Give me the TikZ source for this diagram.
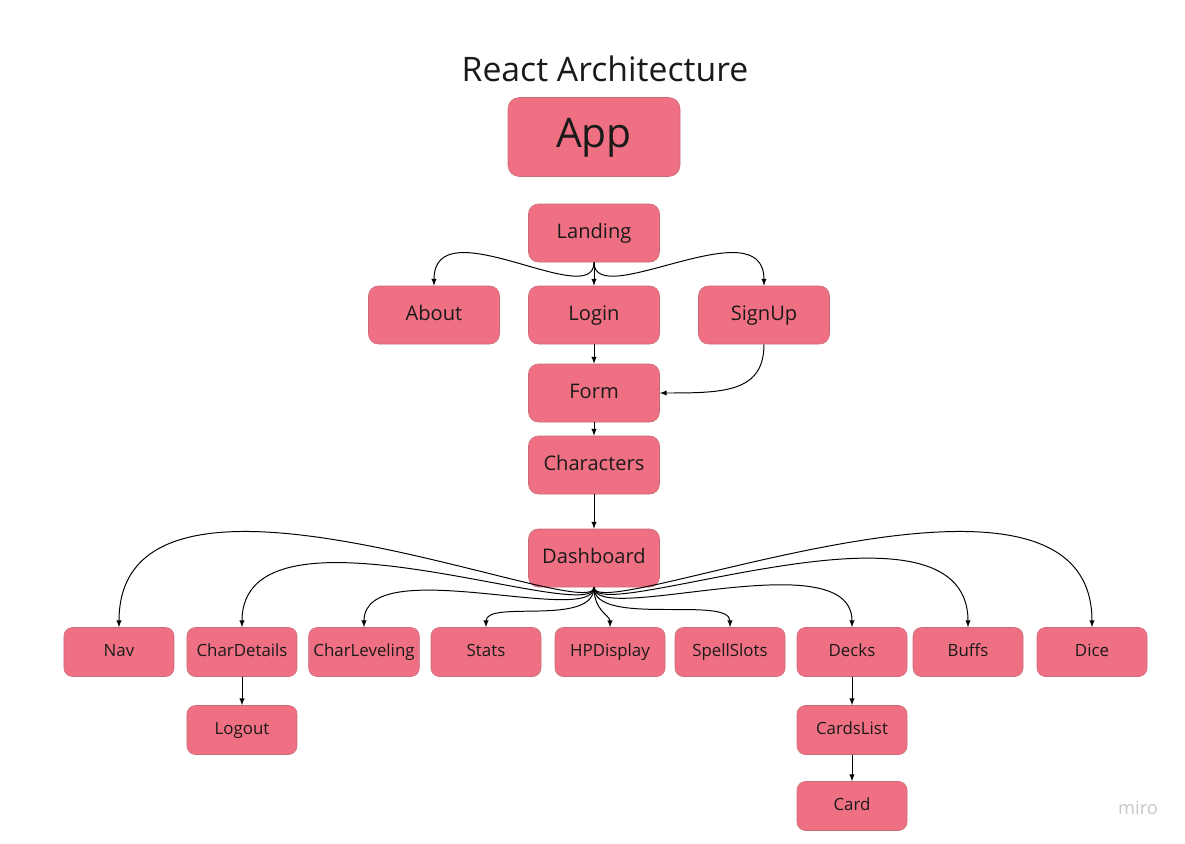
\documentclass[tikz,border=0pt]{standalone}
\usepackage{fontspec}
\setmainfont{Open Sans}
\usepackage{xcolor}
\usepackage{tikz}
\usetikzlibrary{shapes,arrows,positioning}
\definecolor{boxfill}{HTML}{F07083}
\definecolor{boxline}{HTML}{C86A78}
\definecolor{inktext}{HTML}{1A1A1A}
\tikzstyle{block} = [rectangle, draw=boxline, line width=0.4pt, fill=boxfill, text=inktext,
    text centered, rounded corners=7pt, minimum width=3.275cm, minimum height=1.45cm,
    text height=10.9pt, text depth=3.4pt, font=\fontsize{14.3}{17}\selectfont]
\tikzstyle{bigblock} = [block, minimum width=4.3cm, minimum height=1.975cm,
    text height=22pt, text depth=7pt, rounded corners=8pt, font=\fontsize{29}{34}\selectfont]
\tikzstyle{smallblock} = [block, minimum width=2.75cm, minimum height=1.225cm,
    text height=9.1pt, text depth=2.9pt, rounded corners=6pt, font=\fontsize{12}{14}\selectfont]
\tikzstyle{headline} = [text=inktext, font=\fontsize{24}{29}\selectfont]
\tikzstyle{arrow} = [draw, -latex, line width=0.7pt]

\begin{document}
\begin{tikzpicture}[node distance = 2cm, auto]
			\useasboundingbox (-14.85,-17.65) rectangle (14.775,3.425);
			% Place nodes
			\node [bigblock] (app) {App};
			\node [headline, above of=app, node distance=1.7cm, xshift=0.275cm] (heading) {React Architecture};
			\node [block, below of=app, node distance=2.4cm] (landing) {Landing};
			\node [block, below of=landing, node distance=2.05cm] (login) {Login};
			\node [block, left of=login, node distance=4.0cm] (about) {About};
			\node [block, right of=login, node distance=4.25cm] (signup) {SignUp};
			\node [block, below of=login, node distance=1.95cm] (form) {Form};
			\node [block, below of=form, node distance=1.8cm] (characters) {Characters};
			\node [block, below of=characters, node distance=2.325cm] (dashboard) {Dashboard};
			\node [smallblock, below of=dashboard, node distance=2.35cm, xshift=-11.875cm] (nav) {Nav};
			\node [smallblock, right of=nav, node distance=3.075cm] (charDetails) {CharDetails};
			\node [smallblock, right of=charDetails, node distance=3.05cm] (charLeveling) {CharLeveling};
			\node [smallblock, right of=charLeveling, node distance=3.05cm] (stats) {Stats};
			\node [smallblock, right of=stats, node distance=3.1cm] (hpDisplay) {HPDisplay};
			\node [smallblock, right of=hpDisplay, node distance=3.0cm] (spellSlots) {SpellSlots};
			\node [smallblock, right of=spellSlots, node distance=3.05cm] (decks) {Decks};
			\node [smallblock, right of=decks, node distance=2.9cm] (buffs) {Buffs};
			\node [smallblock, right of=buffs, node distance=3.1cm] (dice) {Dice};
			\node [smallblock, below of=charDetails, node distance=1.95cm] (logout) {Logout};
			\node [smallblock, below of=decks, node distance=1.95cm] (cardsList) {CardsList};
			\node [smallblock, below of=cardsList, node distance=1.9cm] (card) {Card};
			\node [text=black!22, font=\fontsize{13}{15}\selectfont] (miroMark) at (13.6,-16.775) {miro};
			% Landing and sign in
			\path [arrow] (landing.south) .. controls +(0,-1.25) and +(0,2) .. (about.north);
			\path [arrow] (landing.south) -- (login.north);
			\path [arrow] (landing.south) .. controls +(0,-1.25) and +(0,2) .. (signup.north);
			\path [arrow] (login) -- (form);
			\path [arrow] (signup.south) .. controls +(0,-1.2) and +(1.6,0) .. (form.east);
			\path [arrow] (form) -- (characters);
			\path [arrow] (characters) -- (dashboard);
			% Dashboard children
			\path [arrow] (dashboard.south) .. controls +(0,-1) and +(0,5.2) .. (nav.north);
			\path [arrow] (dashboard.south) .. controls +(0,-1) and +(0,3.45) .. (charDetails.north);
			\path [arrow] (dashboard.south) .. controls +(0,-1) and +(0,1.9) .. (charLeveling.north);
			\path [arrow] (dashboard.south) .. controls +(0,-1) and +(0,0.7) .. (stats.north);
			\path [arrow] (dashboard.south) .. controls +(0,-0.6) and +(0,0.3) .. (hpDisplay.north);
			\path [arrow] (dashboard.south) .. controls +(0,-1) and +(0,0.8) .. (spellSlots.north);
			\path [arrow] (dashboard.south) .. controls +(0,-1) and +(0,2.2) .. (decks.north);
			\path [arrow] (dashboard.south) .. controls +(0,-1) and +(0,3.7) .. (buffs.north);
			\path [arrow] (dashboard.south) .. controls +(0,-1) and +(0,5.2) .. (dice.north);
			\path [arrow] (charDetails) -- (logout);
			\path [arrow] (decks) -- (cardsList);
			\path [arrow] (cardsList) -- (card);
	\end{tikzpicture}
\end{document}
